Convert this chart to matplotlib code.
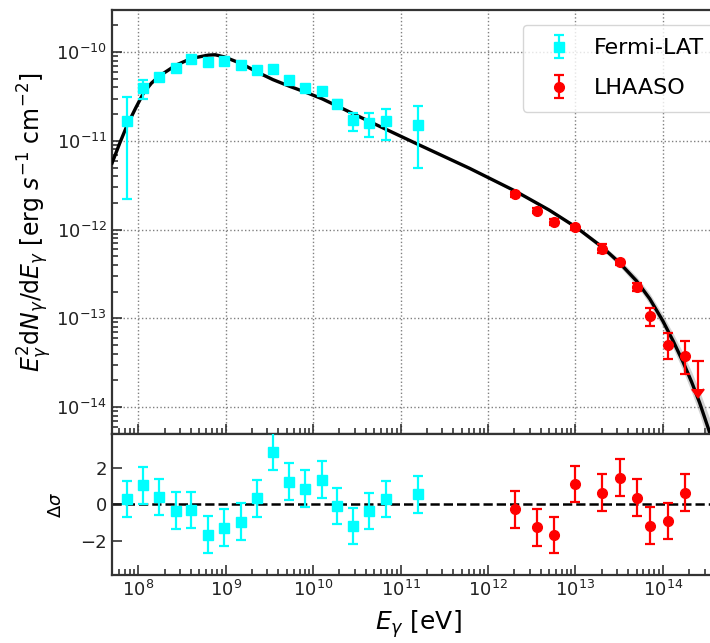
import numpy as np
import matplotlib.pyplot as plt

# Fermi-LAT points: energy [eV], flux, lower / upper end of error bar
fermi_E = [7.5e7, 1.14e8, 1.74e8, 2.7e8, 4.0e8, 6.3e8, 9.6e8, 1.5e9, 2.3e9,
           3.5e9, 5.3e9, 8.1e9, 1.26e10, 1.87e10, 2.87e10, 4.4e10, 6.8e10, 1.58e11]
fermi_F = [1.68e-11, 3.9e-11, 5.2e-11, 6.7e-11, 8.3e-11, 7.7e-11, 7.9e-11, 7.1e-11, 6.3e-11,
           6.4e-11, 4.8e-11, 3.95e-11, 3.65e-11, 2.6e-11, 1.72e-11, 1.6e-11, 1.67e-11, 1.5e-11]
fermi_lo = [2.2e-12, 3.0e-11, 4.7e-11, 6.3e-11, 7.9e-11, 7.4e-11, 7.6e-11, 6.8e-11, 6.0e-11,
            6.1e-11, 4.5e-11, 3.7e-11, 3.4e-11, 2.35e-11, 1.30e-11, 1.11e-11, 1.02e-11, 4.9e-12]
fermi_hi = [3.1e-11, 4.9e-11, 5.7e-11, 7.1e-11, 8.7e-11, 8.0e-11, 8.2e-11, 7.4e-11, 6.6e-11,
            6.7e-11, 5.1e-11, 4.2e-11, 3.9e-11, 2.85e-11, 2.04e-11, 2.07e-11, 2.26e-11, 2.5e-11]
fermi_res = [0.31, 1.04, 0.42, -0.33, -0.31, -1.64, -1.27, -0.93, 0.33,
             2.89, 1.25, 0.87, 1.36, -0.09, -1.18, -0.36, 0.31, 0.55]

# LHAASO points
lhaaso_E = [2.04e12, 3.6e12, 5.7e12, 1.0e13, 2.0e13, 3.2e13, 5.1e13, 7.1e13, 1.14e14, 1.8e14]
lhaaso_F = [2.5e-12, 1.63e-12, 1.21e-12, 1.07e-12, 6.05e-13, 4.27e-13, 2.26e-13, 1.06e-13, 5.0e-14, 3.8e-14]
lhaaso_lo = [2.35e-12, 1.52e-12, 1.13e-12, 1.0e-12, 5.4e-13, 3.95e-13, 2.05e-13, 8.3e-14, 3.47e-14, 2.34e-14]
lhaaso_hi = [2.65e-12, 1.75e-12, 1.3e-12, 1.14e-12, 6.8e-13, 4.6e-13, 2.5e-13, 1.32e-13, 6.84e-14, 5.56e-14]
lhaaso_res = [-0.27, -1.24, -1.67, 1.13, 0.64, 1.46, 0.37, -1.15, -0.91, 0.64]

# LHAASO upper limit
ul_E = [2.5e14]
ul_F = [3.3e-14]
ul_lo = [1.6e-14]

# model curve (log10 E, log10 E^2 dN/dE) and band half width in dex
model_logE = [7.70, 7.79, 7.87, 7.97, 8.06, 8.15, 8.24, 8.43, 8.61, 8.80, 8.88, 8.98, 9.18,
              9.36, 9.54, 9.73, 9.91, 10.10, 10.27, 10.65, 11.20, 11.79, 12.31, 12.70, 13.01,
              13.31, 13.50, 13.70, 13.85, 14.00, 14.12, 14.23, 14.33, 14.42, 14.54]
model_logF = [-11.25, -11.02, -10.83, -10.63, -10.46, -10.35, -10.27, -10.147, -10.07, -10.034,
              -10.03, -10.053, -10.13, -10.225, -10.31, -10.385, -10.45, -10.525, -10.605,
              -10.785, -11.04, -11.31, -11.565, -11.78, -11.975, -12.20, -12.37, -12.58, -12.78,
              -13.03, -13.26, -13.49, -13.72, -13.95, -14.30]
band_w = [0.03, 0.03, 0.02, 0.02, 0.015, 0.012, 0.01, 0.01, 0.01, 0.01, 0.01, 0.01, 0.01,
          0.01, 0.01, 0.01, 0.01, 0.01, 0.01, 0.01, 0.01, 0.012, 0.015, 0.018, 0.02,
          0.03, 0.04, 0.05, 0.06, 0.07, 0.085, 0.10, 0.115, 0.13, 0.16]

fermi_E = np.array(fermi_E); fermi_F = np.array(fermi_F)
lhaaso_E = np.array(lhaaso_E); lhaaso_F = np.array(lhaaso_F)
fermi_err = [fermi_F - np.array(fermi_lo), np.array(fermi_hi) - fermi_F]
lhaaso_err = [lhaaso_F - np.array(lhaaso_lo), np.array(lhaaso_hi) - lhaaso_F]
ul_err = np.array(ul_F) - np.array(ul_lo)

mE = 10 ** np.array(model_logE)
mF = 10 ** np.array(model_logF)
bw = 10 ** np.array(band_w)

fig = plt.figure(figsize=(7.1, 6.43), dpi=100)
ax1 = fig.add_axes([0.1577, 0.325, 0.862, 0.6594])
ax2 = fig.add_axes([0.1577, 0.1058, 0.862, 0.2192], sharex=ax1)

# top panel
ax1.fill_between(mE, mF / bw, mF * bw, color='gray', alpha=0.35, lw=0, zorder=2)
ax1.plot(mE, mF, color='black', lw=2.4, zorder=3)
ax1.errorbar(fermi_E, fermi_F, yerr=fermi_err, fmt='s', color='cyan', ms=7,
             elinewidth=1.6, capsize=3.5, capthick=1.6, label='Fermi-LAT', zorder=4)
ax1.errorbar(lhaaso_E, lhaaso_F, yerr=lhaaso_err, fmt='o', color='red', ms=7,
             elinewidth=1.6, capsize=3.5, capthick=1.6, label='LHAASO', zorder=4)
ax1.errorbar(ul_E, ul_F, yerr=ul_err, fmt='none', color='red', uplims=True,
             elinewidth=1.6, capsize=4, capthick=1.6, zorder=4)

ax1.set_xscale('log')
ax1.set_yscale('log')
ax1.set_xlim(5e7, 5e14)
ax1.set_ylim(4.97e-15, 2.98e-10)
ax1.set_yticks([1e-14, 1e-13, 1e-12, 1e-11, 1e-10])
ax1.grid(True, which='major', ls=':', color='gray', lw=1)
ax1.tick_params(labelbottom=False)
ax1.set_ylabel(r'$E_\gamma^2\mathrm{d}N_\gamma/\mathrm{d}E_\gamma$ [erg $s^{-1}$ cm$^{-2}$]',
               fontsize=17)
ax1.yaxis.set_label_coords(-0.095, 0.5)
ax1.legend(loc='upper left', bbox_to_anchor=(523 / 710, 1 - 25 / 643),
           bbox_transform=fig.transFigure, borderaxespad=0, fontsize=16,
           handletextpad=0.6, borderpad=0.6, labelspacing=0.9)

# residual panel
ax2.axhline(0, color='black', ls='--', lw=1.8, zorder=1)
ax2.errorbar(fermi_E, fermi_res, yerr=1, fmt='s', color='cyan', ms=7,
             elinewidth=1.6, capsize=3.5, capthick=1.6, zorder=3)
ax2.errorbar(lhaaso_E, lhaaso_res, yerr=1, fmt='o', color='red', ms=7,
             elinewidth=1.6, capsize=3.5, capthick=1.6, zorder=3)
ax2.set_ylim(-3.85, 3.85)
ax2.set_yticks([-2, 0, 2])
ax2.set_ylabel(r'$\Delta\sigma$', fontsize=13)
ax2.yaxis.set_label_coords(-0.077, 0.5)
ax2.set_xlabel(r'$E_\gamma$ [eV]', fontsize=18, labelpad=6)

for ax in (ax1, ax2):
    ax.tick_params(which='both', direction='in', labelsize=13, width=1.1, colors='#222222')
    ax.tick_params(which='major', length=7)
    ax.tick_params(which='minor', length=4)
    for s in ax.spines.values():
        s.set_linewidth(1.6)
        s.set_color('#333333')

fig.savefig('out.png', dpi=100)
